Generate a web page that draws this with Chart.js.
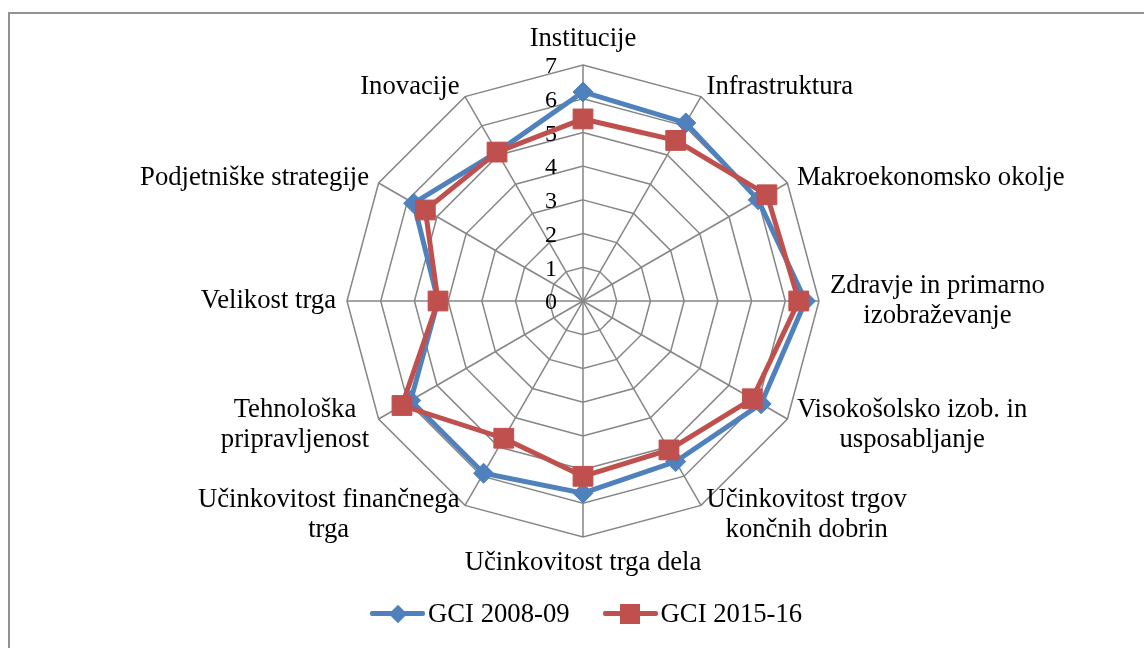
<!DOCTYPE html>
<html>
<head>
<meta charset="utf-8">
<script src="https://cdn.jsdelivr.net/npm/chart.js@4.4.1/dist/chart.umd.min.js"></script>
<style>
  html, body { margin: 0; padding: 0; background: #fff; overflow: hidden; }
  #wrap { position: relative; width: 1144px; height: 648px; overflow: hidden; }
  #frame { position: absolute; left: 8px; top: 12px; width: 1200px; height: 700px;
           border: 2px solid #929292; box-sizing: border-box; }
  #chart { position: absolute; left: 0; top: 0; }
  #legend { position: absolute; left: 370px; top: 598px; display: flex; align-items: center;
            font-family: "Liberation Serif", "Times New Roman", serif; font-size: 26.7px; color: #000; }
  .item { display: flex; align-items: center; margin-right: 33px; }
  .icon { position: relative; width: 55px; height: 5px; border-radius: 2px; margin-right: 3px; }
  .mark { position: absolute; left: 50%; top: 50%; }
</style>
</head>
<body>
<div id="wrap">
  <div id="frame"></div>
  <canvas id="chart" width="1144" height="648"></canvas>
  <div id="legend"></div>
</div>
<script>
const categories = [
  ["Institucije"],
  ["Infrastruktura"],
  ["Makroekonomsko okolje"],
  ["Zdravje in primarno", "izobraževanje"],
  ["Visokošolsko izob. in", "usposabljanje"],
  ["Učinkovitost trgov", "končnih dobrin"],
  ["Učinkovitost trga dela"],
  ["Učinkovitost finančnega", "trga"],
  ["Tehnološka", "pripravljenost"],
  ["Velikost trga"],
  ["Podjetniške strategije"],
  ["Inovacije"]
];
const gci2008 = [6.2, 6.1, 6.0, 6.6, 6.1, 5.5, 5.7, 5.9, 5.9, 4.3, 5.8, 5.1];
const gci2015 = [5.4, 5.5, 6.3, 6.4, 5.8, 5.1, 5.2, 4.7, 6.2, 4.3, 5.4, 5.1];
const tickValues = [0, 1, 2, 3, 4, 5, 6, 7];

const FONT = '"Liberation Serif", "Times New Roman", serif';
const BLUE = "#4f81bd";
const RED = "#c0504d";

// axis text drawn like Excel: ticks left of the vertical spoke, labels centred per line
const axisText = {
  id: "axisText",
  beforeDatasetsDraw(chart) {
    const scale = chart.scales.r;
    const ctx = chart.ctx;
    ctx.save();
    ctx.fillStyle = "#000";
    ctx.textBaseline = "middle";

    ctx.font = "24px " + FONT;
    ctx.textAlign = "right";
    tickValues.forEach((v) => {
      const d = scale.getDistanceFromCenterForValue(v);
      ctx.fillText(String(v), scale.xCenter - 26, scale.yCenter - d + 2);
    });

    ctx.font = "26.7px " + FONT;
    ctx.textAlign = "center";
    const lineH = 30;
    categories.forEach((lines, i) => {
      const p = scale.getPointPosition(i, scale.drawingArea + 11);
      const a = scale.getIndexAngle(i);
      const s = Math.sin(a), c = Math.cos(a);
      const w = Math.max(...lines.map((t) => ctx.measureText(t).width));
      const h = lines.length * lineH;
      let cx = p.x, top;
      if (Math.abs(s) < 0.01) {
        top = c > 0 ? p.y - h : p.y;
      } else {
        cx = s > 0 ? p.x + w / 2 : p.x - w / 2;
        top = p.y - h / 2;
      }
      lines.forEach((t, k) => ctx.fillText(t, cx, top + lineH * k + lineH / 2));
    });
    ctx.restore();
  }
};

const chart = new Chart(document.getElementById("chart"), {
  type: "radar",
  data: {
    labels: categories.map((l) => l.join(" ")),
    datasets: [
      {
        label: "GCI 2008-09",
        data: gci2008,
        borderColor: BLUE,
        backgroundColor: BLUE,
        borderWidth: 5,
        pointStyle: "rectRot",
        pointRadius: 10,
        pointBorderWidth: 1,
        pointBackgroundColor: BLUE,
        pointBorderColor: BLUE,
        fill: false,
        order: 1
      },
      {
        label: "GCI 2015-16",
        data: gci2015,
        borderColor: RED,
        backgroundColor: RED,
        borderWidth: 5,
        pointStyle: "rect",
        pointRadius: 14,
        pointBorderWidth: 1,
        pointBackgroundColor: RED,
        pointBorderColor: RED,
        fill: false,
        order: 0
      }
    ]
  },
  options: {
    responsive: false,
    animation: false,
    layout: { padding: { top: 65, bottom: 111, left: 22, right: 0 } },
    plugins: { legend: { display: false }, tooltip: { enabled: false } },
    scales: {
      r: {
        min: 0,
        max: 7,
        ticks: { stepSize: 1, display: false },
        pointLabels: { display: false },
        grid: { color: "#868686", lineWidth: 1.5 },
        angleLines: { color: "#868686", lineWidth: 1.5 }
      }
    }
  },
  plugins: [axisText]
});

// legend in HTML, built from the datasets
const legend = document.getElementById("legend");
chart.data.datasets.forEach((ds) => {
  const item = document.createElement("div");
  item.className = "item";
  const icon = document.createElement("div");
  icon.className = "icon";
  icon.style.background = ds.borderColor;
  const mark = document.createElement("div");
  mark.className = "mark";
  mark.style.background = ds.borderColor;
  if (ds.pointStyle === "rectRot") {
    mark.style.width = "13px"; mark.style.height = "13px";
    mark.style.transform = "translate(-50%, -50%) rotate(45deg)";
  } else {
    mark.style.width = "20px"; mark.style.height = "20px";
    mark.style.transform = "translate(-50%, -50%)";
  }
  icon.appendChild(mark);
  const text = document.createElement("span");
  text.textContent = ds.label;
  item.appendChild(icon);
  item.appendChild(text);
  legend.appendChild(item);
});
</script>
</body>
</html>
